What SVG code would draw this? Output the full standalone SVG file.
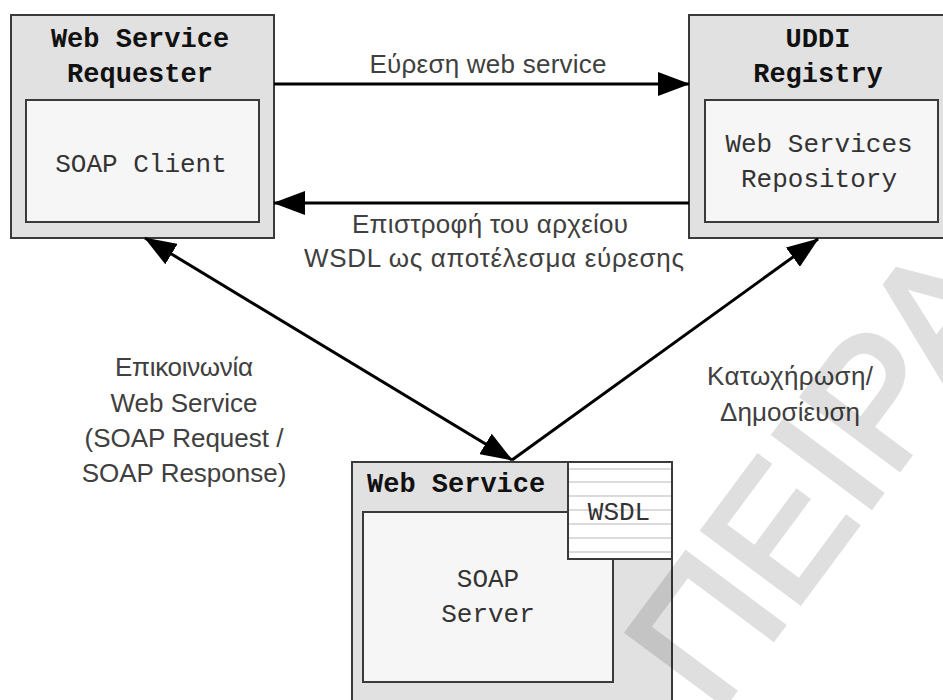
<svg xmlns="http://www.w3.org/2000/svg" width="943" height="700" viewBox="0 0 943 700">
  <defs>
    <style>
      .outer { fill: #e1e1e1; stroke: #3a3a3a; stroke-width: 2; }
      .inner { fill: #f6f6f6; stroke: #3a3a3a; stroke-width: 2; }
      .title { font-family: "Liberation Mono", "Courier New", monospace; font-weight: bold; font-size: 27px; fill: #111; }
      .mono { font-family: "Liberation Mono", "Courier New", monospace; font-size: 26px; fill: #333; }
      .label { font-family: "Liberation Sans", Arial, sans-serif; font-size: 26px; fill: #404040; }
      .conn { stroke: #000; stroke-width: 3; fill: none; }
      .rule { stroke: #cfcfcf; stroke-width: 1.5; }
      .wm { font-family: "Liberation Sans", Arial, sans-serif; font-size: 176px; fill: #000; stroke: #000; stroke-width: 5; stroke-linejoin: miter; }
    </style>
    <marker id="head" viewBox="0 0 32 24" refX="31" refY="12" markerWidth="32" markerHeight="24" markerUnits="userSpaceOnUse" orient="auto-start-reverse">
      <path d="M0,0 L32,12 L0,24 Z" fill="#000"/>
    </marker>
  </defs>

  <rect width="943" height="700" fill="#fff"/>

  <!-- Requester -->
  <g id="requester">
    <rect class="outer" x="11" y="15" width="263" height="223"/>
    <rect class="inner" x="26" y="100" width="233" height="122"/>
    <text class="title" x="140" y="47" text-anchor="middle">Web Service</text>
    <text class="title" x="140" y="82" text-anchor="middle">Requester</text>
    <text class="mono" x="141" y="172" text-anchor="middle">SOAP Client</text>
  </g>

  <!-- UDDI registry -->
  <g id="uddi">
    <rect class="outer" x="689" y="15" width="264" height="223"/>
    <rect class="inner" x="705" y="100" width="233" height="122"/>
    <text class="title" x="818" y="47" text-anchor="middle">UDDI</text>
    <text class="title" x="818" y="82" text-anchor="middle">Registry</text>
    <text class="mono" x="819" y="152" text-anchor="middle">Web Services</text>
    <text class="mono" x="819" y="187" text-anchor="middle">Repository</text>
  </g>

  <!-- Web service provider -->
  <g id="webservice">
    <rect class="outer" x="352" y="462" width="320" height="260"/>
    <rect class="inner" x="363" y="512" width="250" height="170"/>
    <text class="title" x="367" y="492">Web Service</text>
    <text class="mono" x="488" y="587" text-anchor="middle">SOAP</text>
    <text class="mono" x="488" y="622" text-anchor="middle">Server</text>
    <g id="wsdl">
      <rect x="568" y="462" width="104" height="97" fill="#fff"/>
      <line class="rule" x1="569" y1="469" x2="671" y2="469"/>
      <line class="rule" x1="569" y1="482" x2="671" y2="482"/>
      <line class="rule" x1="569" y1="496" x2="671" y2="496"/>
      <line class="rule" x1="569" y1="510" x2="671" y2="510"/>
      <line class="rule" x1="569" y1="524" x2="671" y2="524"/>
      <line class="rule" x1="569" y1="538" x2="671" y2="538"/>
      <line class="rule" x1="569" y1="552" x2="671" y2="552"/>
      <rect x="568" y="462" width="104" height="97" fill="none" stroke="#3a3a3a" stroke-width="2"/>
      <text class="mono" x="619" y="520" text-anchor="middle">WSDL</text>
    </g>
  </g>

  <!-- Connectors -->
  <g id="connectors">
    <line class="conn" x1="274" y1="84" x2="689" y2="84" marker-end="url(#head)"/>
    <line class="conn" x1="689" y1="203" x2="274" y2="203" marker-end="url(#head)"/>
    <line class="conn" x1="145" y1="238" x2="512" y2="460" marker-start="url(#head)" marker-end="url(#head)"/>
    <line class="conn" x1="512" y1="460" x2="818" y2="239" marker-end="url(#head)"/>
  </g>

  <!-- Connector labels -->
  <g id="labels">
    <text class="label" x="488" y="73" text-anchor="middle" textLength="237" lengthAdjust="spacing">Εύρεση web service</text>
    <text class="label" x="490" y="233" text-anchor="middle" textLength="276" lengthAdjust="spacing">Επιστροφή του αρχείου</text>
    <text class="label" x="494" y="267" text-anchor="middle" textLength="380" lengthAdjust="spacing">WSDL ως αποτέλεσμα εύρεσης</text>
    <text class="label" x="184" y="376" text-anchor="middle" textLength="138" lengthAdjust="spacing">Επικοινωνία</text>
    <text class="label" x="184" y="412" text-anchor="middle">Web Service</text>
    <text class="label" x="184" y="447" text-anchor="middle">(SOAP Request /</text>
    <text class="label" x="184" y="482" text-anchor="middle">SOAP Response)</text>
    <text class="label" x="790" y="385" text-anchor="middle" textLength="166" lengthAdjust="spacing">Κατωχήρωση/</text>
    <text class="label" x="790" y="421" text-anchor="middle" textLength="140" lengthAdjust="spacing">Δημοσίευση</text>
  </g>

  <!-- Watermark -->
  <g id="watermark" opacity="0.12">
    <text class="wm" transform="translate(716,716) rotate(-53.4)">ΠΕΙΡΑ</text>
  </g>
</svg>
